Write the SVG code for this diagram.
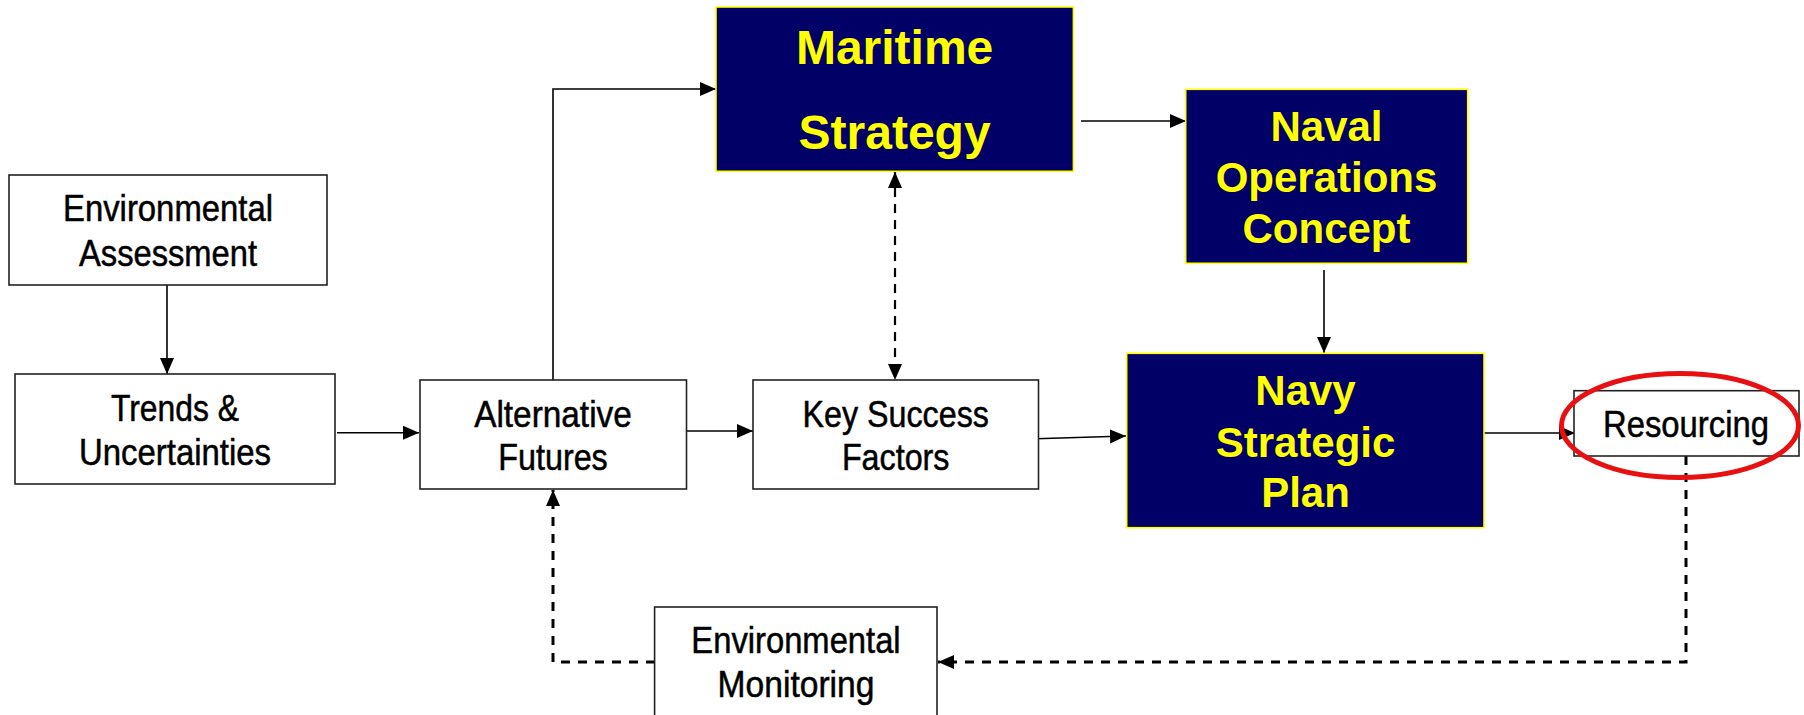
<svg xmlns="http://www.w3.org/2000/svg" width="1804" height="715" viewBox="0 0 1804 715">
<style>
.box{fill:#ffffff;stroke:#222222;stroke-width:1.6}
.navy{fill:#000066;stroke:#ffff00;stroke-width:1.6}
.t{font-family:"Liberation Sans",Arial,sans-serif;font-size:36px;fill:#000000;stroke:#000000;stroke-width:0.5;text-anchor:middle}
.y{font-family:"Liberation Sans",Arial,sans-serif;font-weight:bold;fill:#ffff00;text-anchor:middle}
.c{fill:none;stroke:#000000;stroke-width:1.6}
.d{fill:none;stroke:#000000;stroke-width:2.2;stroke-dasharray:9 7}
.db{fill:none;stroke:#000000;stroke-width:3;stroke-dasharray:9 8}
</style>
<defs>
<marker id="ah" markerUnits="userSpaceOnUse" markerWidth="17" markerHeight="15" refX="16" refY="7" orient="auto-start-reverse">
<path d="M0,0 L16,7 L0,14 z" fill="#000000"/>
</marker>
</defs>
<rect width="1804" height="715" fill="#ffffff"/>
<g id="connectors">
<path class="c" d="M167,285 V374" marker-end="url(#ah)"/>
<path class="c" d="M337,432.7 H419" marker-end="url(#ah)"/>
<path class="c" d="M553,380 V89 H716" marker-end="url(#ah)"/>
<path class="c" d="M1081,121 H1186" marker-end="url(#ah)"/>
<path class="c" d="M1324,270 V353" marker-end="url(#ah)"/>
<path class="c" d="M687,431 H753" marker-end="url(#ah)"/>
<path class="c" d="M1036,438.7 L1126,436" marker-end="url(#ah)"/>
<path class="c" d="M1484,433 H1575" marker-end="url(#ah)"/>
<path class="d" d="M895,172 V380" marker-start="url(#ah)" marker-end="url(#ah)"/>
<path class="db" d="M1686,456 V662 H938" marker-end="url(#ah)"/>
<path class="db" d="M655,662 H553 V490" marker-end="url(#ah)"/>
</g>
<g id="env-assessment">
<rect class="box" x="9" y="175" width="318" height="110"/>
<text class="t" x="168" y="221" textLength="210" lengthAdjust="spacingAndGlyphs">Environmental</text>
<text class="t" x="168" y="266" textLength="178" lengthAdjust="spacingAndGlyphs">Assessment</text>
</g>
<g id="trends">
<rect class="box" x="15" y="374" width="320" height="110"/>
<text class="t" x="175" y="421" textLength="128" lengthAdjust="spacingAndGlyphs">Trends &amp;</text>
<text class="t" x="175" y="465" textLength="192" lengthAdjust="spacingAndGlyphs">Uncertainties</text>
</g>
<g id="alternative-futures">
<rect class="box" x="420" y="380" width="266.5" height="109"/>
<text class="t" x="553" y="426.7" textLength="157.6" lengthAdjust="spacingAndGlyphs">Alternative</text>
<text class="t" x="553" y="470" textLength="109.5" lengthAdjust="spacingAndGlyphs">Futures</text>
</g>
<g id="key-success-factors">
<rect class="box" x="753" y="380" width="285.5" height="109"/>
<text class="t" x="895.7" y="426.7" textLength="186.4" lengthAdjust="spacingAndGlyphs">Key Success</text>
<text class="t" x="895.7" y="470" textLength="107.6" lengthAdjust="spacingAndGlyphs">Factors</text>
</g>
<g id="maritime-strategy">
<rect class="navy" x="716" y="7" width="357.4" height="164.3"/>
<text class="y" x="894.6" y="64.3" font-size="48">Maritime</text>
<text class="y" x="894.6" y="148.7" font-size="48">Strategy</text>
</g>
<g id="naval-operations-concept">
<rect class="navy" x="1185.7" y="89.3" width="282" height="174"/>
<text class="y" x="1326.5" y="141" font-size="42">Naval</text>
<text class="y" x="1326.5" y="192.3" font-size="42">Operations</text>
<text class="y" x="1326.5" y="243.3" font-size="42">Concept</text>
</g>
<g id="navy-strategic-plan">
<rect class="navy" x="1126.7" y="353.3" width="357.3" height="174.4"/>
<text class="y" x="1305.5" y="405" font-size="42">Navy</text>
<text class="y" x="1305.5" y="456.7" font-size="42">Strategic</text>
<text class="y" x="1305.5" y="506.7" font-size="42">Plan</text>
</g>
<g id="resourcing">
<rect class="box" x="1574" y="390.7" width="225" height="65.3"/>
<text class="t" x="1686" y="437.3" textLength="166" lengthAdjust="spacingAndGlyphs">Resourcing</text>
<ellipse cx="1680" cy="425.5" rx="118.5" ry="52" fill="none" stroke="#e81010" stroke-width="5"/>
</g>
<g id="env-monitoring">
<rect class="box" x="654.6" y="607" width="282.4" height="120"/>
<text class="t" x="796" y="653.3" textLength="209.3" lengthAdjust="spacingAndGlyphs">Environmental</text>
<text class="t" x="796" y="696.7" textLength="156.8" lengthAdjust="spacingAndGlyphs">Monitoring</text>
</g>
</svg>
